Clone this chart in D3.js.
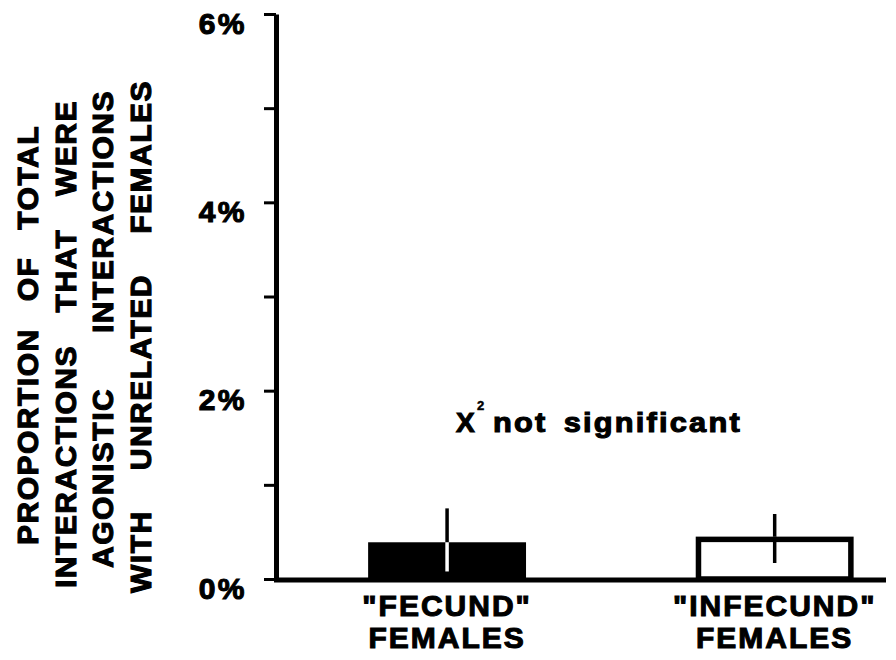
<!DOCTYPE html>
<html>
<head>
<meta charset="utf-8">
<script src="https://cdn.jsdelivr.net/npm/d3@7"></script>
<style>
  body { margin: 0; background: #fff; }
  svg { display: block; }
  text { font-family: "Liberation Sans", Arial, Helvetica, sans-serif; font-weight: bold; fill: #000;
         stroke: #000; stroke-width: 1.1px; }
</style>
</head>
<body>
<div id="chart"></div>
<script>
// data
var categories = ['"FECUND" FEMALES', '"INFECUND" FEMALES'];
var categoryLines = [['"FECUND"', 'FEMALES'], ['"INFECUND"', 'FEMALES']];
var means = [0.39, 0.45];          // percent
var errLow = [0.08, 0.17];
var errHigh = [0.75, 0.69];
var barFills = ['#000', '#fff'];
var yTicks = [0, 1, 2, 3, 4, 5, 6];
var yLabelled = [0, 2, 4, 6];
var yTitleLines = ['PROPORTION OF TOTAL', 'INTERACTIONS THAT WERE', 'AGONISTIC INTERACTIONS', 'WITH UNRELATED FEMALES'];
var noteText = 'not significant';

var width = 896, height = 660;

var svg = d3.select('#chart').append('svg')
    .attr('width', width)
    .attr('height', height);

var y = d3.scaleLinear().domain([0, 6]).range([579, 14]);
var x = d3.scaleBand().domain(categories).range([276, 886])
    .paddingInner(0.518).paddingOuter(0.19).align(0.74);

// y axis
var yAxis = svg.append('g')
    .attr('transform', 'translate(276,0)')
    .call(d3.axisLeft(y).tickValues(yTicks).tickSize(12).tickSizeOuter(0)
      .tickFormat(function(d) { return yLabelled.indexOf(d) >= 0 ? d + '%' : ''; }));
yAxis.select('.domain').attr('stroke', '#000').attr('stroke-width', 5);
yAxis.selectAll('.tick line').attr('stroke', '#000').attr('stroke-width', 3);
yAxis.selectAll('.tick text')
    .attr('x', -29).attr('dy', 19)
    .style('font-size', '30px').style('letter-spacing', '2.5px')
    .attr('font-family', null).attr('fill', '#000');

// x axis line
var xAxis = svg.append('g')
    .attr('transform', 'translate(0,' + (y(0) + 1) + ')')
    .call(d3.axisBottom(x).tickSize(0).tickSizeOuter(0).tickFormat(''));
xAxis.select('.domain').attr('stroke', '#000').attr('stroke-width', 5).attr('d', 'M274,0H886');

xAxis.selectAll('.tick text').remove();
xAxis.selectAll('.tick').each(function(d, i) {
  var t = d3.select(this).append('text')
      .attr('text-anchor', 'middle')
      .style('font-size', '30px').style('letter-spacing', '2px');
  categoryLines[i].forEach(function(line, j) {
    t.append('tspan').attr('x', 0).attr('y', 36 + j * 32).text(line);
  });
});

// bars
var sw = 5.5;
categories.forEach(function(c, i) {
  var filled = barFills[i] === '#000';
  var inset = filled ? 0 : sw / 2;
  svg.append('rect')
      .attr('x', x(c) + inset)
      .attr('y', y(means[i]) + inset)
      .attr('width', x.bandwidth() - 2 * inset)
      .attr('height', y(0) - y(means[i]) - inset)
      .attr('fill', barFills[i])
      .attr('stroke', filled ? 'none' : '#000')
      .attr('stroke-width', sw);
  var cx = x(c) + x.bandwidth() / 2;
  // error bar above the bar top
  svg.append('line')
      .attr('x1', cx).attr('x2', cx)
      .attr('y1', y(errHigh[i])).attr('y2', y(means[i]))
      .attr('stroke', '#000').attr('stroke-width', 3.5);
  // part of the error bar inside the bar
  svg.append('line')
      .attr('x1', cx).attr('x2', cx)
      .attr('y1', y(means[i])).attr('y2', y(errLow[i]))
      .attr('stroke', filled ? '#fff' : '#000').attr('stroke-width', 3.5);
});

// y title, justified lines
var titleX = [27, 65, 102, 140];
var titleSpan = [[545, 125], [588, 100], [568, 90], [593, 80]];
yTitleLines.forEach(function(line, i) {
  var cy = (titleSpan[i][0] + titleSpan[i][1]) / 2;
  var target = titleSpan[i][0] - titleSpan[i][1];
  var t = svg.append('text')
      .attr('transform', 'translate(' + titleX[i] + ',' + cy + ') rotate(-90)')
      .attr('text-anchor', 'middle')
      .attr('dy', '0.36em')
      .style('font-size', '30px')
      .style('letter-spacing', '1.5px')
      .text(line);
  var len = t.node().getComputedTextLength();
  var gaps = line.split(' ').length - 1;
  if (gaps > 0 && target > len) t.style('word-spacing', ((target - len) / gaps) + 'px');
});

// chi-square note
var note = svg.append('g');
note.append('text').attr('x', 456).attr('y', 432).style('font-size', '28px').text('X');
note.append('text').attr('x', 477).attr('y', 410).style('font-size', '13px').style('stroke-width', '0.5px').text('2');
note.append('text')
    .attr('transform', 'translate(493,432) scale(1.1,1)')
    .style('font-size', '28px').style('letter-spacing', '2px').style('word-spacing', '5px')
    .text(noteText);
</script>
</body>
</html>
